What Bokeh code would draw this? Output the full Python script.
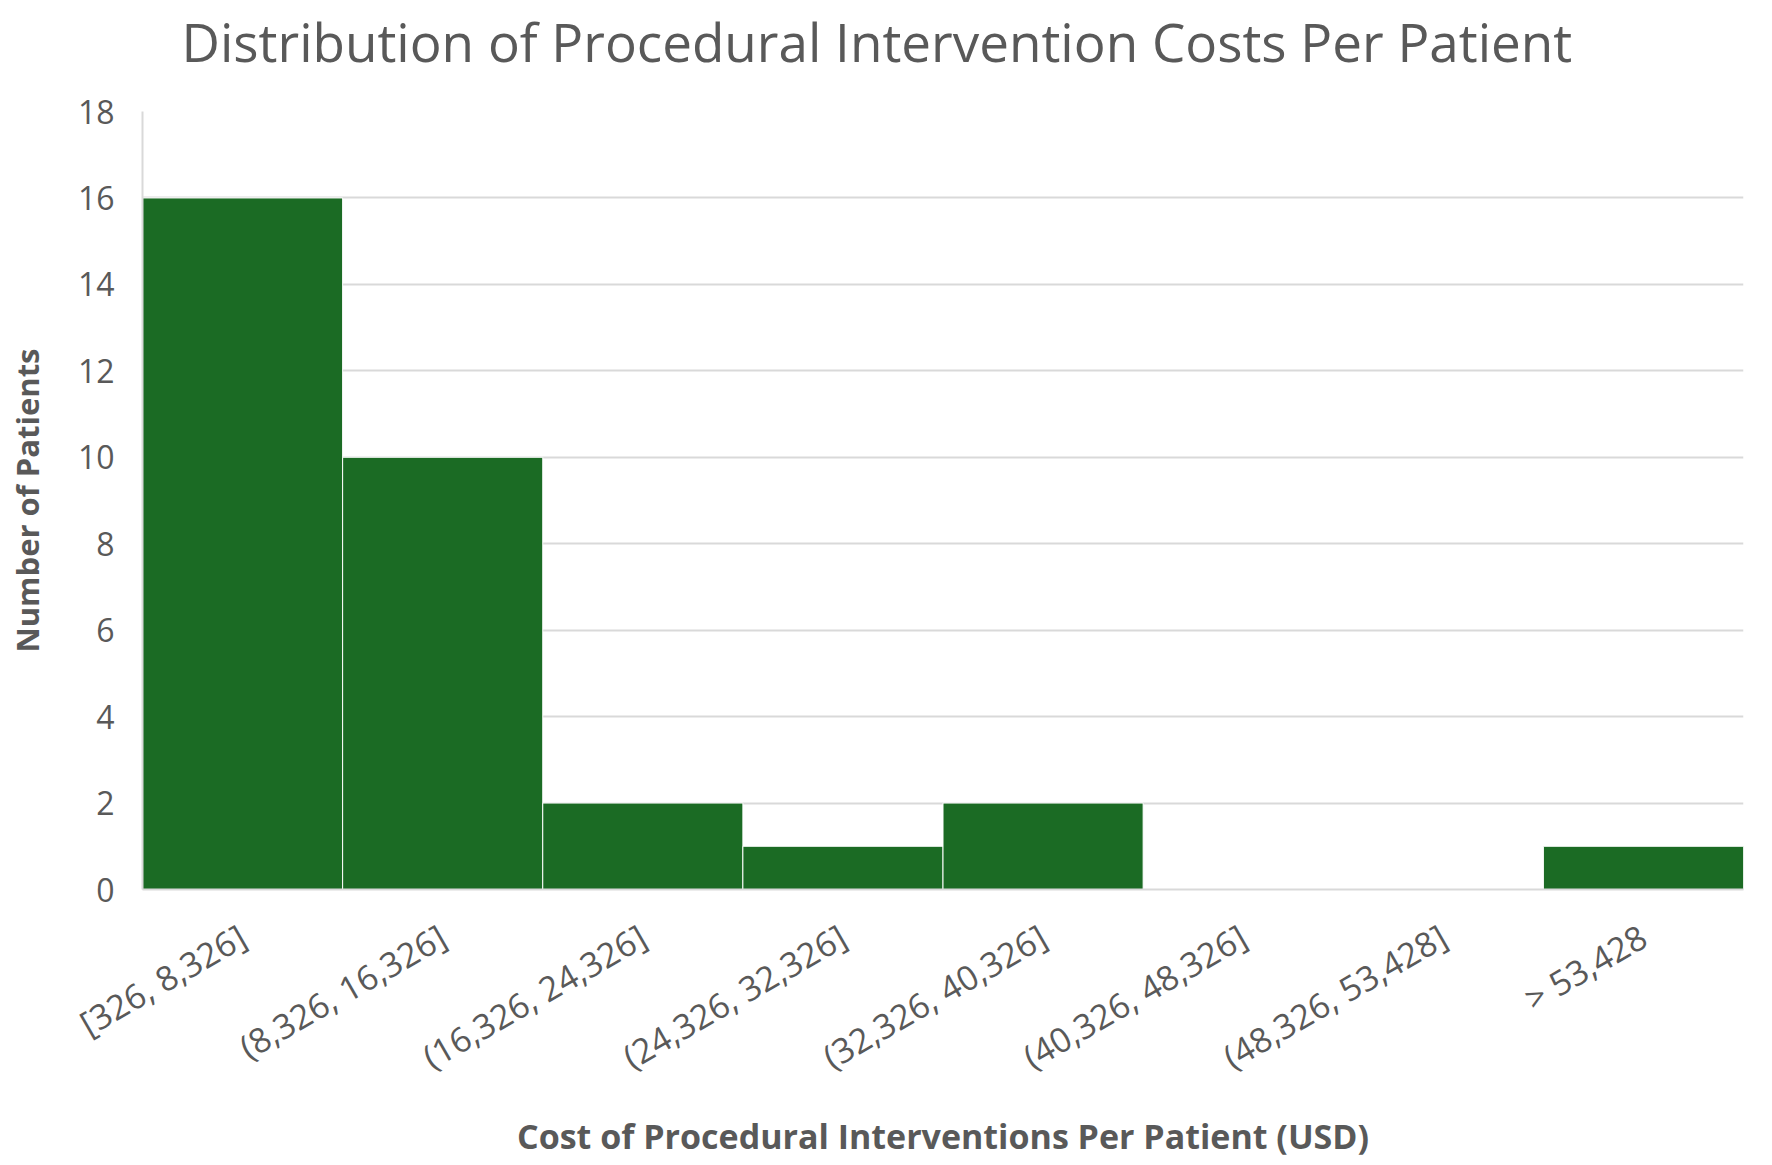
from bokeh.plotting import figure
from bokeh.models import FactorRange, Range1d, FixedTicker, Title
from bokeh.embed import file_html
from bokeh.resources import INLINE

categories = ["[326, 8,326]", "(8,326, 16,326]", "(16,326, 24,326]", "(24,326, 32,326]",
              "(32,326, 40,326]", "(40,326, 48,326]", "(48,326, 53,428]", "> 53,428"]
counts = [16, 10, 2, 1, 2, 0, 0, 1]
y_ticks = [0, 2, 4, 6, 8, 10, 12, 14, 16, 18]
title_text = "Distribution of Procedural Intervention Costs Per Patient"

FONT = "Open Sans"
GREY = "#595959"

W, H = 1772, 1165
LEFT, RIGHT, TOP, BOTTOM = 142, 29, 111, 276

p = figure(x_range=FactorRange(*categories, range_padding=0, factor_padding=0),
           y_range=Range1d(0, 18),
           width=W, height=H,
           output_backend="svg", toolbar_location=None,
           min_border_left=LEFT, min_border_right=RIGHT,
           min_border_top=TOP, min_border_bottom=BOTTOM)

p.vbar(x=categories, top=counts, width=1.0, fill_color="#1B6B24",
       line_color="white", line_width=1)

# spacer panel between frame and title, then the title itself (outermost)
spacer = Title(text=" ", text_font=FONT, text_font_size="10px", standoff=17,
               text_color="white")
main_title = Title(text=title_text, text_font=FONT, text_font_size="53px",
                   text_font_style="normal", text_color=GREY, align="left",
                   offset=39, standoff=2)
p.add_layout(spacer, "above")
p.add_layout(main_title, "above")

p.outline_line_color = None
p.xgrid.grid_line_color = None
p.ygrid.grid_line_color = "#D9D9D9"
p.ygrid.grid_line_width = 2

p.yaxis.ticker = FixedTicker(ticks=y_ticks)
for ax in (p.xaxis[0], p.yaxis[0]):
    ax.axis_line_color = "#D9D9D9"
    ax.axis_line_width = 2
    ax.major_tick_line_color = None
    ax.minor_tick_line_color = None
    ax.major_label_text_font = FONT
    ax.major_label_text_color = GREY
    ax.axis_label_text_font = FONT
    ax.axis_label_text_font_style = "bold"
    ax.axis_label_text_color = GREY

p.yaxis.axis_label = "Number of Patients"
p.yaxis.axis_label_text_font_size = "31px"
p.yaxis.major_label_text_font_size = "32px"
p.yaxis.major_label_standoff = 22
p.yaxis.axis_label_standoff = 27

p.xaxis.axis_label = "Cost of Procedural Interventions Per Patient (USD)"
p.xaxis.axis_label_text_font_size = "34px"
p.xaxis.major_label_text_font_size = "34px"
p.xaxis.major_label_orientation = 0.5236
p.xaxis.major_label_standoff = 38
p.xaxis.axis_label_standoff = 11

open("out.html", "w").write(file_html(p, INLINE))
